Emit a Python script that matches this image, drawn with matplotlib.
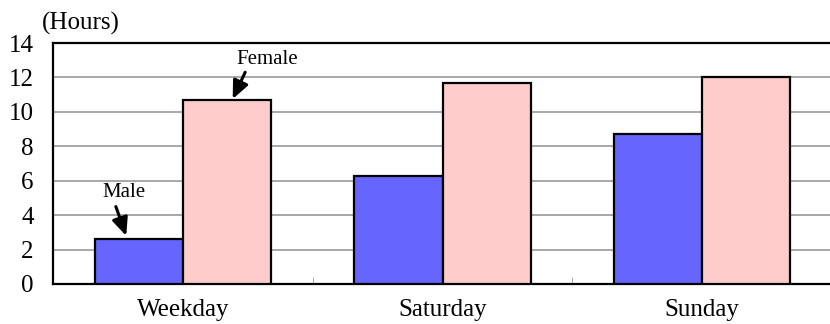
import numpy as np
import matplotlib
matplotlib.use('Agg')
import matplotlib.pyplot as plt

# data
days = ['Weekday', 'Saturday', 'Sunday']
male = [2.6, 6.3, 8.7]
female = [10.7, 11.7, 12.0]
yticks = [0, 2, 4, 6, 8, 10, 12, 14]

plt.rcParams['font.family'] = ['Liberation Serif', 'DejaVu Serif']

fig = plt.figure(figsize=(8.3, 3.24), dpi=100)
ax = fig.add_axes([53 / 830, 1 - 284 / 324, 779 / 830, 241 / 324])

x = np.arange(len(days))
w = 0.34
ax.bar(x - w / 2, male, w, color='#6666FF', edgecolor='black', linewidth=1.6, zorder=3)
ax.bar(x + w / 2, female, w, color='#FFCCCC', edgecolor='black', linewidth=1.6, zorder=3)

ax.set_xlim(-0.5, 2.5)
ax.set_ylim(0, 14)
ax.set_yticks(yticks)
ax.set_yticklabels([str(v) for v in yticks], fontsize=18)
ax.tick_params(axis='y', length=0, pad=14)
ax.yaxis.grid(True, color='#999999', linewidth=1.2, zorder=0)

ax.set_xticks(x)
ax.set_xticklabels(days, fontsize=18)
ax.tick_params(axis='x', length=0, pad=11)
ax.set_xticks([0.5, 1.5], minor=True)
ax.tick_params(axis='x', which='minor', direction='in', length=5, color='#999999')

for s in ['left', 'top', 'bottom']:
    ax.spines[s].set_linewidth(1.6)
ax.spines['right'].set_visible(False)

fig.text(42 / 830, 1 - 23 / 324, '(Hours)', fontsize=18, ha='left', va='center')

arrow = dict(arrowstyle='-|>,head_length=0.9,head_width=0.4', color='black', lw=2.2,
             mutation_scale=12, shrinkA=0, shrinkB=0)
ax.text(0.326, 13.05, 'Female', fontsize=15, ha='center', va='center')
ax.annotate('', xy=(0.192, 10.75), xytext=(0.24, 12.3), arrowprops=arrow)
ax.text(-0.226, 5.3, 'Male', fontsize=15, ha='center', va='center')
ax.annotate('', xy=(-0.218, 2.8), xytext=(-0.258, 4.5), arrowprops=arrow)

fig.savefig('out.png', dpi=100)
